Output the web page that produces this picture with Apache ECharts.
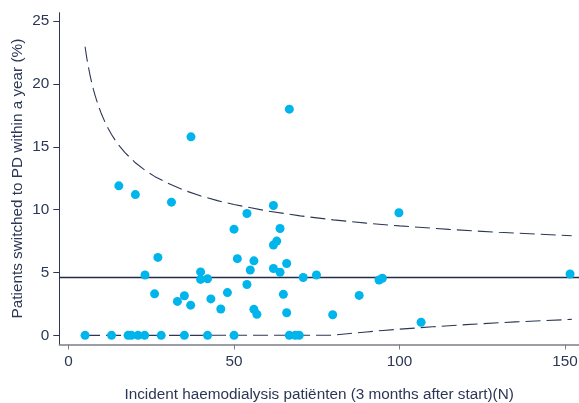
<!DOCTYPE html>
<html>
<head>
<meta charset="utf-8">
<script src="https://cdn.jsdelivr.net/npm/echarts@6/dist/echarts.min.js"></script>
<style>
  html, body { margin: 0; padding: 0; background: #ffffff; }
  #chart { width: 579px; height: 403px; }
</style>
</head>
<body>
<div id="chart"></div>
<script>
// Centres: incident haemodialysis patients (N) and % switched to PD within a year
const patientsN = [
  5, 13, 18, 19, 21, 23, 28, 35, 42, 50, 66.7, 68.5, 69.7,
  15.2, 20.2, 31.1, 27.0, 23.1, 26.0, 39.9, 39.9, 42.0, 32.9,
  35.0, 36.9, 43.0, 48.0, 46.0, 37.0, 50.0, 51.0, 53.9, 54.9,
  53.9, 56.0, 56.0, 56.9, 61.9, 63.9, 61.9, 62.9, 61.9, 63.9,
  64.9, 65.9, 65.9, 66.7, 70.9, 74.9, 79.8, 87.8, 93.8, 94.8,
  99.8, 106.5, 151.5
];
const switchedPct = [
  0, 0, 0, 0, 0, 0, 0, 0, 0, 0, 0, 0, 0,
  11.9, 11.2, 10.6, 6.2, 4.8, 3.3, 5.05, 4.45, 4.5, 2.7,
  3.15, 2.4, 2.9, 3.4, 2.1, 15.8, 8.45, 6.1, 9.7, 5.2,
  4.05, 5.93, 2.07, 1.67, 10.33, 8.5, 7.19, 7.5, 5.32, 5.02,
  3.26, 5.72, 1.8, 18.0, 4.6, 4.8, 1.64, 3.18, 4.4, 4.54,
  9.76, 1.04, 4.88
];

// Overall mean and the funnel's control limits
const meanPct = 4.6;
const upperN = [5, 5.5, 6, 6.5, 7, 7.5, 8, 9, 10, 11, 12, 13, 14, 15, 17, 20, 23, 26, 30, 35, 40, 45, 50, 60, 70, 80, 90, 100, 115, 130, 152];
const upperPct = [22.97, 22.11, 21.37, 20.71, 20.12, 19.59, 19.12, 18.29, 17.59, 16.98, 16.46, 15.99, 15.58, 15.2, 14.56, 13.78, 13.16, 12.65, 12.1, 11.54, 11.09, 10.72, 10.41, 9.9, 9.51, 9.19, 8.93, 8.71, 8.43, 8.2, 7.93];
const lowerN = [5, 40, 80, 85, 90, 95, 100, 110, 120, 135, 152];
const lowerPct = [0, 0, 0.01, 0.15, 0.27, 0.39, 0.49, 0.68, 0.85, 1.07, 1.27];

const xTicks = [0, 50, 100, 150];
const yTicks = [0, 5, 10, 15, 20, 25];

const ink = '#2c3755';
const fontFamily = '"Liberation Sans", Arial, sans-serif';
const fontSize = 15.3;
const zip = (xs, ys) => xs.map((x, i) => [x, ys[i]]);

const chart = echarts.init(document.getElementById('chart'), null, { renderer: 'canvas' });

const limitLine = { color: ink, width: 1.1, type: [15, 6] };

chart.setOption({
  animation: false,
  backgroundColor: '#ffffff',
  grid: { left: 59.3, right: 0, top: 12.7, bottom: 58.5, containLabel: false, outerBoundsMode: 'none' },
  xAxis: {
    type: 'value',
    min: -2.78,
    max: 154.2,
    name: 'Incident haemodialysis patiënten (3 months after start)(N)',
    nameLocation: 'middle',
    nameGap: 43,
    nameTextStyle: { color: ink, fontSize, fontFamily },
    axisLine: { show: true, onZero: false, lineStyle: { color: '#7d7f86', width: 1.5 } },
    axisTick: { show: true, length: 5, customValues: xTicks, lineStyle: { color: '#7d7f86', width: 1 } },
    axisLabel: { customValues: xTicks, margin: 10, color: ink, fontSize, fontFamily },
    splitLine: { show: false }
  },
  yAxis: {
    type: 'value',
    min: -0.73,
    max: 25.68,
    name: 'Patients switched to PD within a year (%)',
    nameLocation: 'middle',
    nameGap: 34,
    nameMoveOverlap: false,
    nameTextStyle: { color: ink, fontSize, fontFamily },
    axisLine: { show: true, onZero: false, lineStyle: { color: ink, width: 1 } },
    axisTick: { show: true, length: 6, customValues: yTicks, lineStyle: { color: ink, width: 1 } },
    axisLabel: { customValues: yTicks, margin: 10, color: ink, fontSize, fontFamily },
    splitLine: { show: false }
  },
  series: [
    {
      name: 'Upper limit',
      type: 'line',
      data: zip(upperN, upperPct),
      smooth: false,
      showSymbol: false,
      lineStyle: limitLine,
      z: 2
    },
    {
      name: 'Lower limit',
      type: 'line',
      data: zip(lowerN, lowerPct),
      smooth: false,
      showSymbol: false,
      lineStyle: limitLine,
      z: 2
    },
    {
      name: 'Centres',
      type: 'scatter',
      data: zip(patientsN, switchedPct),
      symbol: 'circle',
      symbolSize: 9,
      itemStyle: { color: '#00b4ec', opacity: 1 },
      z: 4,
      markLine: {
        silent: true,
        symbol: 'none',
        label: { show: false },
        lineStyle: { color: '#232d48', width: 1.4, type: 'solid' },
        data: [{ yAxis: meanPct }],
        z: 3
      }
    }
  ]
});
</script>
</body>
</html>
